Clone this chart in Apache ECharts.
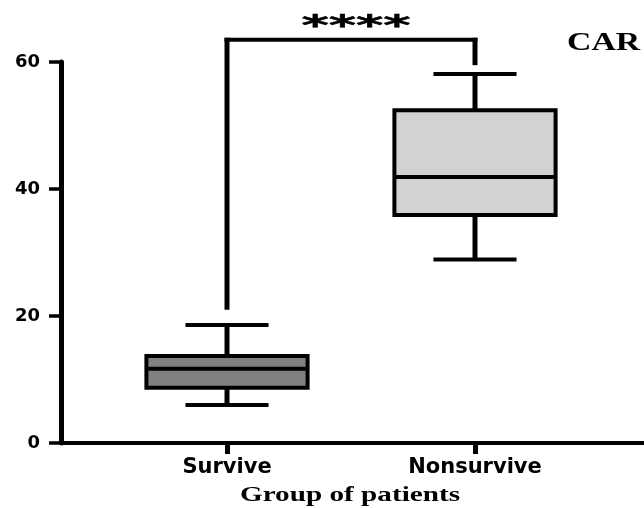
<!DOCTYPE html>
<html>
<head>
<meta charset="utf-8">
<script src="https://cdn.jsdelivr.net/npm/echarts@6/dist/echarts.min.js"></script>
<style>html,body{margin:0;padding:0;background:#fff}#c{width:644px;height:508px}</style>
</head>
<body>
<div id="c"></div>
<script>
// ---- data ----
const categories = ['Survive', 'Nonsurvive'];
// [min, Q1, median, Q3, max]
const boxSurvive = [6.0, 8.7, 11.7, 13.7, 18.6];
const boxNonsurvive = [28.9, 35.9, 41.9, 52.4, 58.1];
const boxFills = ['#808080', '#d2d2d2'];
// significance bracket values: [left leg bottom, top, right leg bottom]
const bracketValues = [21.0, 63.5, 59.5];
const sigLabel = '****';
const yTicks = [0, 20, 40, 60];
const titleText = 'CAR';
const xAxisTitle = 'Group of patients';

const boxes = [boxSurvive, boxNonsurvive];
const boxData = boxes.map((b, i) => [i].concat(b));

const chart = echarts.init(document.getElementById('c'), null, {renderer: 'canvas'});
const gTop = 62, gBottom = 65;
const VW = 5, HW = 4; // vertical / horizontal stroke widths
chart.setOption({
  animation: false,
  backgroundColor: '#fff',
  grid: [
    {left: 103, right: 45, top: gTop, bottom: gBottom},
    {left: 61, right: 0, top: gTop, bottom: gBottom}
  ],
  xAxis: [
    {
      type: 'category', gridIndex: 0, data: categories,
      axisLine: {show: false},
      axisTick: {show: true, alignWithLabel: true, length: 11, lineStyle: {color: '#000', width: 5}},
      axisLabel: {color: '#000', fontFamily: 'DejaVu Sans', fontWeight: 'bold', fontSize: 21, margin: 14},
      splitLine: {show: false}
    },
    {
      type: 'value', gridIndex: 1, min: 0, max: 1,
      axisLine: {show: true, lineStyle: {color: '#000', width: 4}},
      axisTick: {show: false}, axisLabel: {show: false}, splitLine: {show: false}
    }
  ],
  yAxis: [
    {type: 'value', gridIndex: 0, min: 0, max: 60, interval: 20, show: false},
    {
      type: 'value', gridIndex: 1, min: yTicks[0], max: yTicks[yTicks.length - 1], interval: 20,
      axisLine: {show: true, lineStyle: {color: '#000', width: 5}},
      axisTick: {show: true, length: 12, lineStyle: {color: '#000', width: 3.5}},
      axisLabel: {color: '#000', fontFamily: 'DejaVu Sans', fontWeight: 'bold', fontSize: 18, margin: 21},
      splitLine: {show: false}
    }
  ],
  series: [
    {
      type: 'custom', xAxisIndex: 0, yAxisIndex: 0, clip: false,
      encode: {x: 0, y: [1, 2, 3, 4, 5]},
      data: boxData,
      renderItem: function (params, api) {
        const x = api.value(0);
        const lo = api.coord([x, api.value(1)]);
        const q1 = api.coord([x, api.value(2)]);
        const md = api.coord([x, api.value(3)]);
        const q3 = api.coord([x, api.value(4)]);
        const hi = api.coord([x, api.value(5)]);
        const band = api.size([1, 0])[0];
        const bw = band * 0.65, cw = band * 0.335;
        const cx = lo[0];
        const vs = {stroke: '#000', lineWidth: VW, lineCap: 'butt'};
        const hs = {stroke: '#000', lineWidth: HW, lineCap: 'butt'};
        return {
          type: 'group',
          children: [
            {type: 'line', shape: {x1: cx, y1: hi[1], x2: cx, y2: q3[1]}, style: vs},
            {type: 'line', shape: {x1: cx, y1: q1[1], x2: cx, y2: lo[1]}, style: vs},
            {type: 'line', shape: {x1: cx - cw / 2, y1: hi[1], x2: cx + cw / 2, y2: hi[1]}, style: hs},
            {type: 'line', shape: {x1: cx - cw / 2, y1: lo[1], x2: cx + cw / 2, y2: lo[1]}, style: hs},
            {type: 'rect', shape: {x: cx - bw / 2, y: q3[1], width: bw, height: q1[1] - q3[1]},
              style: {fill: boxFills[params.dataIndex], stroke: '#000', lineWidth: 4}},
            {type: 'line', shape: {x1: cx - bw / 2, y1: md[1], x2: cx + bw / 2, y2: md[1]}, style: hs}
          ]
        };
      }
    },
    {
      type: 'custom', xAxisIndex: 0, yAxisIndex: 0, clip: false,
      encode: {y: [0, 1, 2]},
      data: [bracketValues],
      renderItem: function (params, api) {
        const a = api.coord([0, api.value(0)]);
        const t0 = api.coord([0, api.value(1)]);
        const t1 = api.coord([1, api.value(1)]);
        const b = api.coord([1, api.value(2)]);
        const vs = {stroke: '#000', lineWidth: VW, lineCap: 'butt'};
        return {
          type: 'group',
          children: [
            {type: 'line', shape: {x1: a[0], y1: a[1], x2: t0[0], y2: t0[1] - HW / 2}, style: vs},
            {type: 'line', shape: {x1: b[0], y1: b[1], x2: t1[0], y2: t1[1] - HW / 2}, style: vs},
            {type: 'line', shape: {x1: t0[0] - VW / 2, y1: t0[1], x2: t1[0] + VW / 2, y2: t1[1]},
              style: {stroke: '#000', lineWidth: HW, lineCap: 'butt'}}
          ]
        };
      }
    }
  ]
});

// annotation texts
const pL = chart.convertToPixel({xAxisIndex: 0, yAxisIndex: 0}, [0, bracketValues[1]]);
const pR = chart.convertToPixel({xAxisIndex: 0, yAxisIndex: 0}, [1, bracketValues[1]]);
chart.setOption({
  graphic: [
    {type: 'text', x: (pL[0] + pR[0]) / 2 + 5, y: pL[1] - 12, scaleX: 1.45, scaleY: 0.78,
      style: {text: sigLabel, font: 'bold 36px "DejaVu Sans"', fill: '#000', stroke: '#000', lineWidth: 0.6,
        textAlign: 'center', textVerticalAlign: 'middle', align: 'center', verticalAlign: 'middle'}},
    {type: 'text', x: 567, y: 43, scaleX: 1.3,
      style: {text: titleText, font: 'bold 26px "Liberation Serif"', fill: '#000',
        textAlign: 'left', textVerticalAlign: 'middle', align: 'left', verticalAlign: 'middle'}},
    {type: 'text', x: 350, y: 496, scaleX: 1.39,
      style: {text: xAxisTitle, font: 'bold 21px "Liberation Serif"', fill: '#000',
        textAlign: 'center', textVerticalAlign: 'middle', align: 'center', verticalAlign: 'middle'}}
  ]
});
</script>
</body>
</html>
